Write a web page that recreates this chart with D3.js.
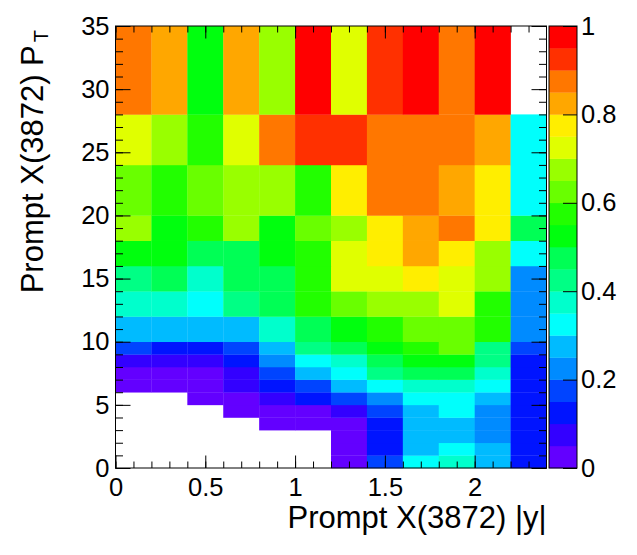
<!DOCTYPE html>
<html><head><meta charset="utf-8">
<script src="https://cdn.jsdelivr.net/npm/d3@7"></script>
<style>
body{margin:0;background:#fff}
text{font-family:"Liberation Sans",Arial,Helvetica,sans-serif;fill:#000}
</style>
</head><body>
<svg id="c" width="637" height="555"></svg>
<script>
// ---- data ----
const xEdges = [0,0.2,0.4,0.6,0.8,1.0,1.2,1.4,1.6,1.8,2.0,2.2,2.4];
const yEdges = [0,1,2,3,4,5,6,7,8,9,10,12,14,16,18,20,24,28,35];
// one row per y bin, bottom (pT 0-1) to top (pT 28-35); columns follow xEdges
const row00 = [null,null,null,null,null,null,0.03,0.18,0.33,0.38,0.28,0.13];
const row01 = [null,null,null,null,null,null,0.03,0.13,0.28,0.33,0.28,0.13];
const row02 = [null,null,null,null,null,null,0.03,0.13,0.28,0.28,0.23,0.13];
const row03 = [null,null,null,null,0.03,0.03,0.03,0.13,0.28,0.28,0.23,0.13];
const row04 = [null,null,null,0.03,0.03,0.03,0.08,0.18,0.28,0.33,0.23,0.13];
const row05 = [null,null,0.03,0.03,0.08,0.13,0.18,0.23,0.33,0.33,0.28,0.13];
const row06 = [0.03,0.03,0.03,0.08,0.13,0.18,0.28,0.33,0.38,0.38,0.33,0.13];
const row07 = [0.03,0.03,0.03,0.08,0.18,0.28,0.33,0.43,0.48,0.48,0.38,0.13];
const row08 = [0.08,0.08,0.08,0.13,0.23,0.33,0.38,0.48,0.53,0.53,0.43,0.13];
const row09 = [0.18,0.13,0.13,0.18,0.28,0.43,0.48,0.53,0.58,0.63,0.43,0.18];
const row10 = [0.28,0.28,0.28,0.28,0.38,0.48,0.53,0.58,0.63,0.63,0.58,0.23];
const row12 = [0.38,0.38,0.33,0.43,0.48,0.58,0.63,0.68,0.68,0.73,0.58,0.23];
const row14 = [0.43,0.48,0.38,0.48,0.48,0.58,0.73,0.73,0.78,0.73,0.68,0.23];
const row16 = [0.53,0.53,0.48,0.48,0.53,0.58,0.73,0.78,0.83,0.78,0.68,0.33];
const row18 = [0.68,0.53,0.58,0.68,0.53,0.63,0.68,0.78,0.83,0.88,0.78,0.48];
const row20 = [0.63,0.58,0.63,0.68,0.68,0.58,0.78,0.88,0.88,0.83,0.78,0.33];
const row24 = [0.73,0.68,0.58,0.73,0.88,0.93,0.93,0.88,0.88,0.88,0.83,0.33];
const row28 = [0.88,0.83,0.53,0.83,0.68,0.98,0.73,0.93,0.98,0.88,0.98,null];
const rows = [row00,row01,row02,row03,row04,row05,row06,row07,row08,row09,row10,row12,row14,row16,row18,row20,row24,row28];

const xTicks = [0,0.5,1,1.5,2];
const yTicks = [0,5,10,15,20,25,30,35];
const zTicks = [0,0.2,0.4,0.6,0.8,1];
const xTitle = "Prompt X(3872) |y|";
const yTitle = "Prompt X(3872) P";
const yTitleSub = "T";
const nLevels = 20;

// ---- palette (ROOT pretty palette, 20 contours) ----
const palette = d3.range(nLevels).map(k => {
  const idx = Math.floor((k + 0.99) * 50 / nLevels);
  const hue = idx < 49 ? 280 - (idx + 1) * 5.6 : 0;
  return d3.hsl(hue, 1, 0.5).formatHex();
});
const color = d3.scaleQuantize().domain([0,1]).range(palette);

// ---- layout ----
const svg = d3.select("#c");
const L = 115.5, R = 546.5, T = 26, B = 468;
const x = d3.scaleLinear().domain([0,2.4]).range([L,R]);
const y = d3.scaleLinear().domain([0,35]).range([B,T]);

// cells
const cells = [];
rows.forEach((r,j) => r.forEach((v,i) => {
  if (v != null) cells.push({x0:xEdges[i],x1:xEdges[i+1],y0:yEdges[j],y1:yEdges[j+1],v});
}));
svg.append("g").selectAll("rect").data(cells).join("rect")
  .attr("x", d => x(d.x0)).attr("y", d => y(d.y1))
  .attr("width", d => x(d.x1) - x(d.x0) + 0.3)
  .attr("height", d => y(d.y0) - y(d.y1) + 0.3)
  .attr("fill", d => color(d.v));

// frame
svg.append("rect").attr("x",L).attr("y",T).attr("width",R-L).attr("height",B-T)
  .attr("fill","none").attr("stroke","#000").attr("stroke-width",1);

const fs = 25.5;
function styleAxis(g){ g.select(".domain").remove(); g.selectAll("line").attr("stroke","#000"); g.selectAll("text").attr("font-size",fs).attr("font-family",null); }

// x axis bottom
svg.append("g").attr("transform",`translate(0,${B})`)
  .call(d3.axisBottom(x).tickValues(xTicks).tickSizeInner(-12.5).tickSizeOuter(0).tickPadding(10)
    .tickFormat(d => d3.format("")(d))).call(styleAxis);
svg.append("g").attr("transform",`translate(0,${B})`)
  .call(d3.axisBottom(x).tickValues(d3.range(0,24).map(i=>i/10)).tickSizeInner(-6.5).tickSizeOuter(0).tickFormat("")).call(styleAxis);
// x axis top
svg.append("g").attr("transform",`translate(0,${T})`)
  .call(d3.axisTop(x).tickValues(xTicks).tickSizeInner(-12.5).tickSizeOuter(0).tickFormat("")).call(styleAxis);
svg.append("g").attr("transform",`translate(0,${T})`)
  .call(d3.axisTop(x).tickValues(d3.range(0,24).map(i=>i/10)).tickSizeInner(-6.5).tickSizeOuter(0).tickFormat("")).call(styleAxis);
// y axis left
svg.append("g").attr("transform",`translate(${L},0)`)
  .call(d3.axisLeft(y).tickValues(yTicks).tickSizeInner(-15).tickSizeOuter(0).tickPadding(6)).call(styleAxis);
svg.append("g").attr("transform",`translate(${L},0)`)
  .call(d3.axisLeft(y).tickValues(d3.range(0,36)).tickSizeInner(-7.5).tickSizeOuter(0).tickFormat("")).call(styleAxis);
// y axis right
svg.append("g").attr("transform",`translate(${R},0)`)
  .call(d3.axisRight(y).tickValues(yTicks).tickSizeInner(-15).tickSizeOuter(0).tickFormat("")).call(styleAxis);
svg.append("g").attr("transform",`translate(${R},0)`)
  .call(d3.axisRight(y).tickValues(d3.range(0,36)).tickSizeInner(-7.5).tickSizeOuter(0).tickFormat("")).call(styleAxis);

// colour bar
const CL = 549, CR = 577;
const z = d3.scaleLinear().domain([0,1]).range([B,T]);
svg.append("g").selectAll("rect").data(d3.range(nLevels)).join("rect")
  .attr("x",CL).attr("width",CR-CL)
  .attr("y",k => z((k+1)/nLevels)).attr("height",k => z(k/nLevels)-z((k+1)/nLevels)+0.3)
  .attr("fill",k => palette[k]);
svg.append("rect").attr("x",CL).attr("y",T).attr("width",CR-CL).attr("height",B-T)
  .attr("fill","none").attr("stroke","#000");
svg.append("g").attr("transform",`translate(${CR},0)`)
  .call(d3.axisRight(z).tickValues(zTicks).tickSizeInner(-14).tickSizeOuter(0).tickPadding(4)
    .tickFormat(d => d3.format("")(d))).call(styleAxis);

// titles
svg.append("text").attr("x",R).attr("y",528).attr("text-anchor","end").attr("font-size",31).text(xTitle);
const yt = svg.append("text").attr("transform","translate(43,30) rotate(-90)").attr("text-anchor","end").attr("font-size",31);
yt.append("tspan").text(yTitle);
yt.append("tspan").attr("font-size",20).attr("dy",5).attr("dx",3).text(yTitleSub);
</script>
</body></html>
